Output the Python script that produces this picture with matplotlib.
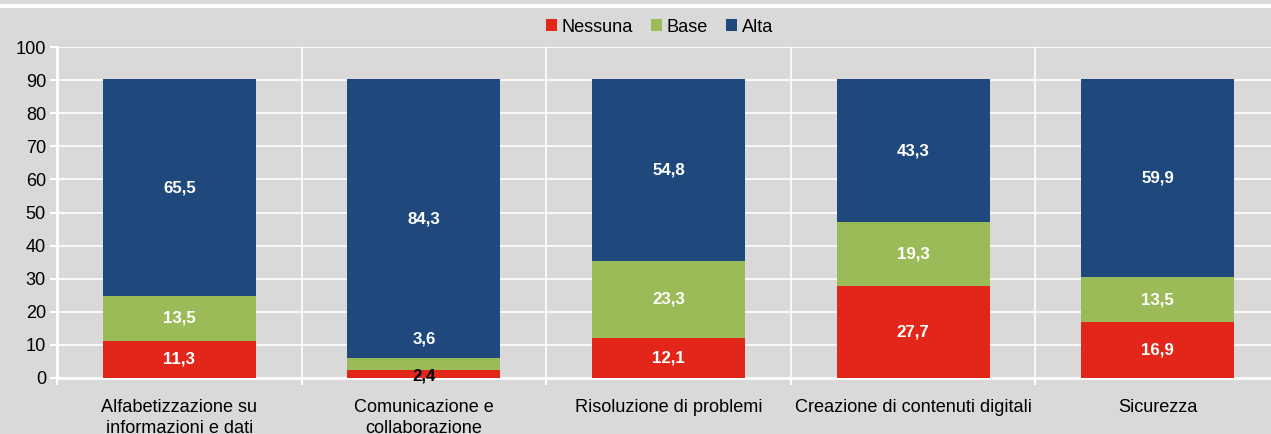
import matplotlib
matplotlib.use("Agg")
import matplotlib.pyplot as plt
from matplotlib import font_manager
from matplotlib.lines import Line2D
import numpy as np

installed = {f.name for f in font_manager.fontManager.ttflist}
narrow = "Liberation Sans Narrow" in installed
plt.rcParams["font.family"] = ["Liberation Sans Narrow" if narrow else "Liberation Sans", "DejaVu Sans"]
# regular Liberation Sans is wider than the narrow face, so shrink a little
scale = 1.0 if narrow else 0.87

categories = [
    "Alfabetizzazione su\ninformazioni e dati",
    "Comunicazione e\ncollaborazione",
    "Risoluzione di problemi",
    "Creazione di contenuti digitali",
    "Sicurezza",
]
nessuna = [11.3, 2.4, 12.1, 27.7, 16.9]
base = [13.5, 3.6, 23.3, 19.3, 13.5]
alta = [65.5, 84.3, 54.8, 43.3, 59.9]

series_names = ["Nessuna", "Base", "Alta"]
series_colors = ["#e2261a", "#9bbb59", "#1f497d"]

BG = "#d9d9d9"

fig = plt.figure(figsize=(12.71, 4.34), dpi=100, facecolor=BG)
ax = fig.add_axes([57 / 1271, 56 / 434, 1223 / 1271, 331 / 434], facecolor=BG)

x = np.arange(len(categories))
bottom = np.zeros(len(categories))
for name, vals, color in zip(series_names, [nessuna, base, alta], series_colors):
    vals = np.array(vals)
    ax.bar(x, vals, bottom=bottom, width=0.626, color=color, label=name, zorder=3)
    for i, (v, b) in enumerate(zip(vals, bottom)):
        ypos = b + v / 2
        txt_color = "white"
        # the thin segments of the second bar are labelled off-centre
        if i == 1 and name == "Nessuna":
            ypos = 0.6
            txt_color = "black"
        elif i == 1 and name == "Base":
            ypos = 11.8
        ax.text(i, ypos, f"{v:.1f}".replace(".", ","), ha="center", va="center",
                color=txt_color, fontsize=14 * scale, fontweight="bold", zorder=4)
    bottom += vals

ax.set_xlim(-0.5, 4.5)
ax.set_ylim(0, 100)
ax.set_yticks(range(0, 101, 10))
ax.set_xticks(np.arange(-0.5, 5, 1.0))
ax.set_xticklabels([])
ax.set_xticks(x, minor=True)
ax.set_xticklabels(categories, minor=True, fontsize=15 * scale, linespacing=1.35)

ax.grid(axis="both", which="major", color="white", linewidth=1.2, zorder=0)
ax.tick_params(axis="y", which="major", colors="white", length=5, width=1.5,
               labelcolor="black", labelsize=15 * scale, pad=3)
ax.tick_params(axis="x", which="major", colors="white", length=5, width=1.5)
ax.tick_params(axis="x", which="minor", length=0, pad=15, labelcolor="black")

for side in ("top", "right"):
    ax.spines[side].set_visible(False)
for side in ("left", "bottom"):
    ax.spines[side].set_color("white")
    ax.spines[side].set_linewidth(2)

handles, labels = ax.get_legend_handles_labels()
fig.legend(handles, labels, loc="center", bbox_to_anchor=(0.519, 1 - 27 / 434),
           ncol=3, frameon=False, fontsize=15 * scale, handlelength=0.6, handleheight=0.6,
           handletextpad=0.25, columnspacing=1.0, borderpad=0)

fig.add_artist(Line2D([0, 1], [1 - 6 / 434, 1 - 6 / 434], color="white", linewidth=3,
                      transform=fig.transFigure))

fig.savefig("out.png", dpi=100, facecolor=BG)
